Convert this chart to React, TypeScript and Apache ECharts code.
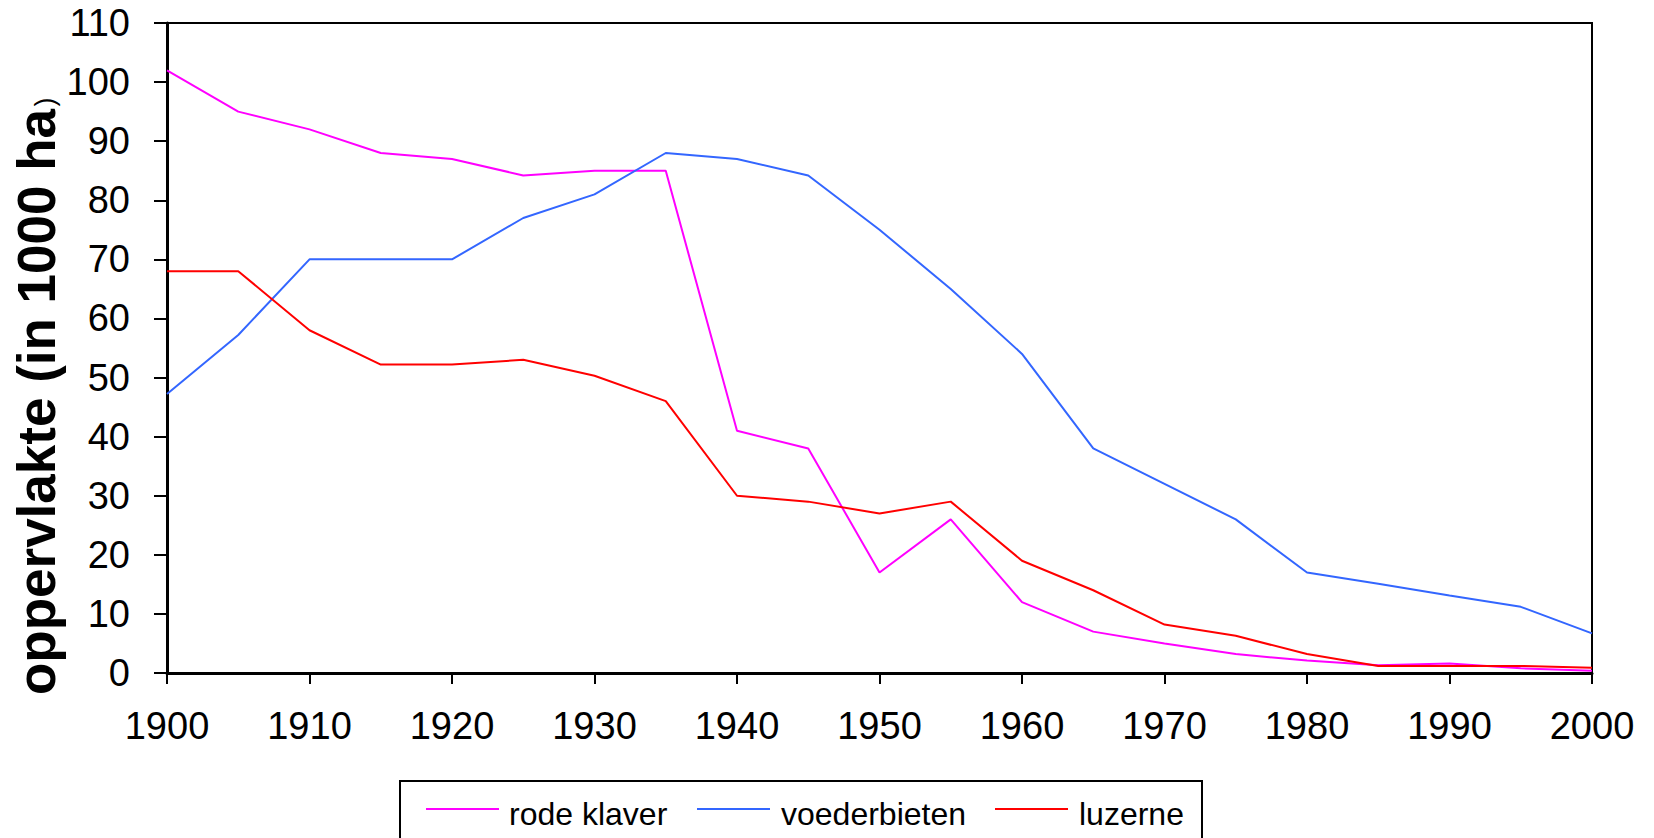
import React, { useEffect, useRef } from "react";
import * as echarts from "echarts";

const years = [1900, 1905, 1910, 1915, 1920, 1925, 1930, 1935, 1940, 1945, 1950, 1955, 1960, 1965, 1970, 1975, 1980, 1985, 1990, 1995, 2000];
const rodeKlaver = [102, 95, 92, 88, 87, 84.2, 85, 85, 41, 38, 17, 26, 12, 7, 5, 3.2, 2.1, 1.3, 1.6, 0.8, 0.4];
const voederbieten = [47.2, 57.2, 70, 70, 70, 77, 81, 88, 87, 84.2, 75, 65, 54, 38, 32, 26, 17, 15.1, 13.1, 11.2, 6.7];
const luzerne = [68, 68, 58, 52.2, 52.2, 53, 50.3, 46, 30, 29, 27, 29, 19, 14, 8.2, 6.3, 3.2, 1.2, 1.2, 1.2, 0.9];
const seriesNames = ["rode klaver", "voederbieten", "luzerne"];
const seriesColors = ["#FF00FF", "#3366FF", "#FF0000"];
const yAxisTitle = "oppervlakte (in 1000 ha";

const FONT = "'Liberation Sans', Arial, sans-serif";

export default function App() {
  const ref = useRef<HTMLDivElement>(null);
  useEffect(() => {
    if (!ref.current) return;
    const chart = echarts.init(ref.current, null, { renderer: "svg" });
    const allData = [rodeKlaver, voederbieten, luzerne];
    const legendLineX = [426, 697, 995];
    const legendTextX = [509, 781, 1079];
    const legendEls: any[] = [
      {
        type: "rect",
        shape: { x: 400, y: 781, width: 802, height: 80 },
        style: { fill: "#fff", stroke: "#000", lineWidth: 2 },
        z: 10,
      },
    ];
    seriesNames.forEach((n, i) => {
      legendEls.push({
        type: "line",
        shape: { x1: legendLineX[i], y1: 809, x2: legendLineX[i] + 73, y2: 809 },
        style: { stroke: seriesColors[i], lineWidth: 2 },
        z: 11,
      });
      legendEls.push({
        type: "text",
        x: legendTextX[i],
        y: 814,
        style: { text: n, fill: "#000", font: `32px ${FONT}`, align: "left", verticalAlign: "middle" },
        z: 11,
      });
    });
    chart.setOption({
      animation: false,
      backgroundColor: "#fff",
      grid: { left: 167, top: 23, right: 62, bottom: 165, show: true, borderColor: "#000", borderWidth: 2, backgroundColor: "transparent" },
      xAxis: {
        type: "value",
        min: 1900,
        max: 2000,
        interval: 10,
        axisLine: { show: true, lineStyle: { color: "#000", width: 3 } },
        axisTick: { show: true, inside: false, length: 11, lineStyle: { color: "#000", width: 2 } },
        axisLabel: { color: "#000", fontSize: 38, fontFamily: FONT, margin: 34, formatter: (v: number) => String(v) },
        splitLine: { show: false },
      },
      yAxis: {
        type: "value",
        min: 0,
        max: 110,
        interval: 10,
        axisLine: { show: true, lineStyle: { color: "#000", width: 3 } },
        axisTick: { show: true, inside: false, length: 13, lineStyle: { color: "#000", width: 2 } },
        axisLabel: { color: "#000", fontSize: 38, fontFamily: FONT, margin: 37, padding: [6, 0, 0, 0] },
        splitLine: { show: false },
      },
      series: seriesNames.map((n, i) => ({
        name: n,
        type: "line",
        data: years.map((y, j) => [y, allData[i][j]]),
        showSymbol: false,
        symbol: "none",
        lineStyle: { color: seriesColors[i], width: 2 },
        itemStyle: { color: seriesColors[i] },
      })),
      graphic: [
        {
          type: "text",
          x: 36,
          y: 402,
          rotation: Math.PI / 2,
          style: { text: yAxisTitle, fill: "#000", font: `bold 53px ${FONT}`, align: "center", verticalAlign: "middle" },
        },
        {
          type: "text",
          x: 45,
          y: 102,
          rotation: Math.PI / 2,
          style: { text: ")", fill: "#000", font: `27px ${FONT}`, align: "center", verticalAlign: "middle" },
        },
        ...legendEls,
      ],
    });
    return () => chart.dispose();
  }, []);
  return <div ref={ref} style={{ width: 1654, height: 838, position: "absolute", left: 0, top: 0 }} />;
}
